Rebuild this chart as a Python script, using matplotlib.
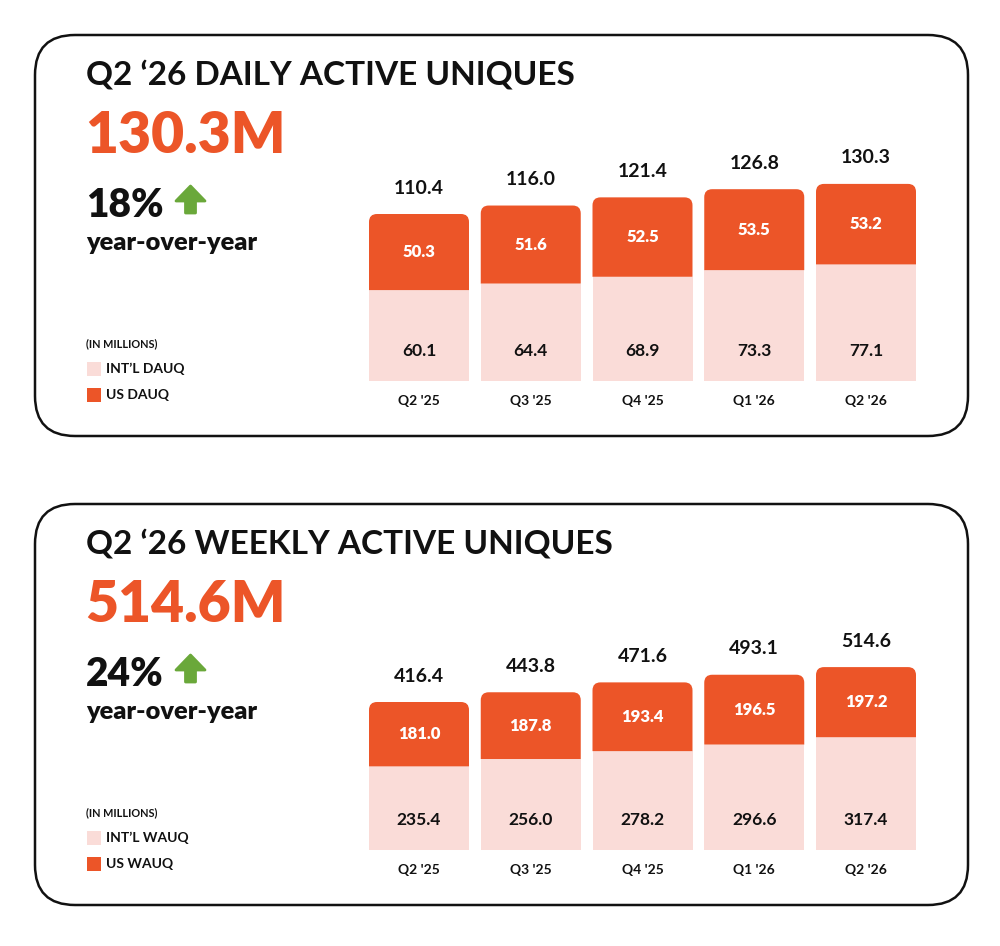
import matplotlib
matplotlib.use("Agg")
import matplotlib.pyplot as plt
from matplotlib.patches import FancyBboxPatch, FancyArrow, PathPatch, Rectangle
from matplotlib.path import Path

plt.rcParams['font.family'] = ['Lato', 'DejaVu Sans']

# data
quarters = ["Q2 '25", "Q3 '25", "Q4 '25", "Q1 '26", "Q2 '26"]
dau_intl = [60.1, 64.4, 68.9, 73.3, 77.1]
dau_us = [50.3, 51.6, 52.5, 53.5, 53.2]
dau_total = [110.4, 116.0, 121.4, 126.8, 130.3]
wau_intl = [235.4, 256.0, 278.2, 296.6, 317.4]
wau_us = [181.0, 187.8, 193.4, 196.5, 197.2]
wau_total = [416.4, 443.8, 471.6, 493.1, 514.6]

ORANGE = '#EC5528'
PINK = '#FADCD8'
GREEN = '#6AA83A'
INK = '#111111'

W, H = 1000, 946
fig = plt.figure(figsize=(W / 100, H / 100), dpi=100)

# overlay in pixel coords
ov = fig.add_axes([0, 0, 1, 1])
ov.set_xlim(0, W)
ov.set_ylim(H, 0)
ov.axis('off')


def top_round_bar(ax, x0, x1, y0, y1, rx, ry, color):
    verts = [(x0, y0), (x0, y1 - ry), (x0, y1), (x0 + rx, y1),
             (x1 - rx, y1), (x1, y1), (x1, y1 - ry), (x1, y0), (x0, y0)]
    codes = [Path.MOVETO, Path.LINETO, Path.CURVE3, Path.CURVE3,
             Path.LINETO, Path.CURVE3, Path.CURVE3, Path.LINETO, Path.CLOSEPOLY]
    ax.add_patch(PathPatch(Path(verts, codes), facecolor=color, edgecolor='none'))


def panel(dy, title, big, pct, intl, us, total, lbl_intl, lbl_us, px_per_unit):
    # rounded frame
    ov.add_patch(FancyBboxPatch((35, 35 + dy), 933, 401, boxstyle="round,pad=0,rounding_size=40",
                                facecolor='white', edgecolor=INK, linewidth=1.8))
    ov.text(86, 75 + dy, title, fontsize=24, fontweight='bold', color=INK, va='center', ha='left')
    ov.text(85, 136 + dy, big, fontsize=41, fontweight='heavy', color=ORANGE, va='center', ha='left')
    ov.text(86, 205 + dy, pct, fontsize=28, fontweight='heavy', color=INK, va='center', ha='left')
    ov.add_patch(FancyArrow(190.5, 213 + dy, 0, -27, width=10, head_width=29, head_length=15,
                            length_includes_head=True, facecolor=GREEN, edgecolor=GREEN,
                            linewidth=2, joinstyle='round'))
    ov.text(86, 243 + dy, "year-over-year", fontsize=18.3, fontweight='heavy', color=INK, va='center', ha='left')
    ov.text(86, 344 + dy, "(IN MILLIONS)", fontsize=7.8, fontweight='bold', color=INK, va='center', ha='left')
    ov.add_patch(Rectangle((87, 362 + dy), 14, 14, facecolor=PINK, edgecolor='none'))
    ov.add_patch(Rectangle((87, 388 + dy), 14, 14, facecolor=ORANGE, edgecolor='none'))
    ov.text(106, 369 + dy, lbl_intl, fontsize=10, fontweight='bold', color=INK, va='center', ha='left')
    ov.text(106, 395 + dy, lbl_us, fontsize=10, fontweight='bold', color=INK, va='center', ha='left')

    # bar axes
    pitch = 111.75
    left = 419 - pitch / 2
    base = 381 + dy
    ax_h = 241
    ax = fig.add_axes([left / W, (H - base) / H, 5 * pitch / W, ax_h / H])
    ax.set_xlim(-0.5, 4.5)
    ax.set_ylim(0, ax_h / px_per_unit)
    ax.axis('off')
    bw = 100 / pitch
    rx = 8 / pitch
    ry = 8 / px_per_unit
    xs = range(len(quarters))
    ax.bar(xs, intl, width=bw, color=PINK, linewidth=0)
    for i in xs:
        top_round_bar(ax, i - bw / 2, i + bw / 2, intl[i], total[i], rx, ry, ORANGE)
        ax.annotate(f"{total[i]:.1f}", (i, total[i]), xytext=(0, 26), textcoords='offset pixels',
                    ha='center', va='center', fontsize=14, fontweight='bold', color=INK,
                    annotation_clip=False)
        ax.text(i, intl[i] + us[i] / 2, f"{us[i]:.1f}", ha='center', va='center',
                fontsize=12, fontweight='heavy', color='white')
        ax.annotate(f"{intl[i]:.1f}", (i, 0), xytext=(0, 30), textcoords='offset pixels',
                    ha='center', va='center', fontsize=12.5, fontweight='bold', color=INK)
        ax.annotate(quarters[i], (i, 0), xytext=(0, -20), textcoords='offset pixels',
                    ha='center', va='center', fontsize=10, fontweight='bold', color=INK,
                    annotation_clip=False)


panel(0, "Q2 \u201826 DAILY ACTIVE UNIQUES", "130.3M", "18%",
      dau_intl, dau_us, dau_total, "INT\u2019L DAUQ", "US DAUQ", 167 / 110.4)
panel(469, "Q2 \u201826 WEEKLY ACTIVE UNIQUES", "514.6M", "24%",
      wau_intl, wau_us, wau_total, "INT\u2019L WAUQ", "US WAUQ", 148 / 416.4)

fig.savefig("out.png", dpi=100, facecolor='white')
